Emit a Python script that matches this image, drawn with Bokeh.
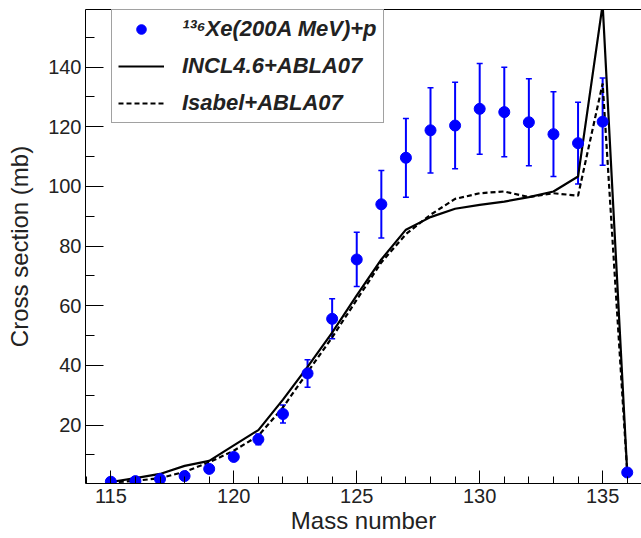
from bokeh.plotting import figure
from bokeh.models import (ColumnDataSource, Whisker, TeeHead, FixedTicker, LinearAxis,
                          Legend, LegendItem, Range1d)
from bokeh.embed import file_html
from bokeh.resources import INLINE

# ---------------- data ----------------
mass = [115, 116, 117, 118, 119, 120, 121, 122, 123, 124, 125,
        126, 127, 128, 129, 130, 131, 132, 133, 134, 135, 136]
exp_xs = [1.0, 1.2, 1.9, 2.9, 5.3, 9.3, 15.2, 23.7, 37.3, 55.6, 75.5,
          94.0, 109.6, 118.8, 120.4, 126.0, 124.9, 121.5, 117.5, 114.5, 121.7, 4.1]
exp_err = [0.1, 0.15, 0.2, 0.35, 0.6, 1.1, 1.8, 3.0, 4.6, 6.7, 9.1,
           11.3, 13.2, 14.3, 14.5, 15.2, 15.0, 14.6, 14.2, 13.7, 14.6, 0.5]
incl = [0.9, 2.2, 3.6, 6.3, 8.0, 13.2, 18.3, 28.5, 39.5, 51.0, 63.5,
        75.5, 85.5, 89.7, 92.5, 93.8, 94.9, 96.4, 98.3, 103.3, 161.0, 4.1]
isabel = [0.7, 1.3, 2.2, 4.3, 7.5, 11.4, 16.4, 25.9, 37.7, 49.4, 62.0,
          74.5, 84.0, 90.5, 95.8, 97.7, 98.3, 96.4, 97.7, 96.9, 134.5, 4.1]

x_major = [115, 120, 125, 130, 135]
x_minor = [m for m in range(114, 137) if m not in x_major]
y_major = [20, 40, 60, 80, 100, 120, 140]
y_minor = [10, 30, 50, 70, 90, 110, 130, 150]

legend_labels = ["\u00b9\u00b3\u2076Xe(200A MeV)+p", "INCL4.6+ABLA07", "Isabel+ABLA07"]

FONT = "Liberation Sans"

src = ColumnDataSource(dict(
    mass=mass, xs=exp_xs,
    lo=[v - e for v, e in zip(exp_xs, exp_err)],
    hi=[v + e for v, e in zip(exp_xs, exp_err)],
    incl=incl, isabel=isabel))

p = figure(width=641, height=538, output_backend="svg", toolbar_location=None,
           x_range=Range1d(113.97, 136.58), y_range=Range1d(0.4, 159.3),
           min_border_left=85, min_border_right=0, min_border_top=9, min_border_bottom=55)
p.outline_line_color = None
p.xgrid.visible = False
p.ygrid.visible = False
p.background_fill_color = "white"
p.border_fill_color = "white"

# lines
solid = p.line("mass", "incl", source=src, line_color="black", line_width=2.2)
dashed = p.line("mass", "isabel", source=src, line_color="black", line_width=2.2,
                line_dash="5 3")

# error bars
wh = Whisker(base="mass", lower="lo", upper="hi", source=src,
             line_color="blue", line_width=2,
             upper_head=TeeHead(size=6, line_color="blue", line_width=1.5),
             lower_head=TeeHead(size=6, line_color="blue", line_width=1.5))
p.add_layout(wh)
pts = p.scatter("mass", "xs", source=src, size=11, marker="circle",
                fill_color="blue", line_color="blue")

# axes
xa = p.xaxis[0]
xa.ticker = FixedTicker(ticks=x_major, minor_ticks=x_minor)
xa.axis_label = "Mass number"
ya = p.yaxis[0]
ya.ticker = FixedTicker(ticks=y_major, minor_ticks=y_minor)
ya.axis_label = "Cross section (mb)"

for ax in (xa, ya):
    ax.axis_line_color = "black"
    ax.axis_line_width = 1
    ax.major_tick_line_color = "black"
    ax.minor_tick_line_color = "black"
    ax.major_tick_out = 0
    ax.minor_tick_out = 0
    ax.major_label_text_font = FONT
    ax.major_label_text_font_size = "20px"
    ax.major_label_text_color = "#222222"
    ax.axis_label_text_font = FONT
    ax.axis_label_text_font_size = "24px"
    ax.axis_label_text_font_style = "normal"
    ax.axis_label_text_color = "#222222"

xa.major_tick_in = 13
xa.minor_tick_in = 7
xa.major_label_standoff = 5
xa.axis_label_standoff = 1
ya.major_tick_in = 18
ya.minor_tick_in = 9
ya.major_label_standoff = 4
ya.axis_label_standoff = 12

top = LinearAxis(ticker=FixedTicker(ticks=[]), axis_line_color="black", axis_line_width=1,
                 major_tick_in=0, major_tick_out=0, minor_tick_in=0, minor_tick_out=0,
                 major_label_text_font_size="0px", major_label_standoff=0)
p.add_layout(top, "above")

legend = Legend(items=[LegendItem(label=legend_labels[0], renderers=[pts]),
                       LegendItem(label=legend_labels[1], renderers=[solid]),
                       LegendItem(label=legend_labels[2], renderers=[dashed])],
                location=(26, 360), margin=0, padding=6, spacing=11,
                glyph_width=46, glyph_height=24, label_height=24, label_standoff=18,
                label_text_font=FONT, label_text_font_style="bold italic",
                label_text_font_size="22px", label_text_color="#222222",
                border_line_color="#444444", border_line_width=1.2,
                background_fill_color="white", background_fill_alpha=1.0)
p.add_layout(legend)

open("out.html", "w").write(file_html(p, INLINE))
